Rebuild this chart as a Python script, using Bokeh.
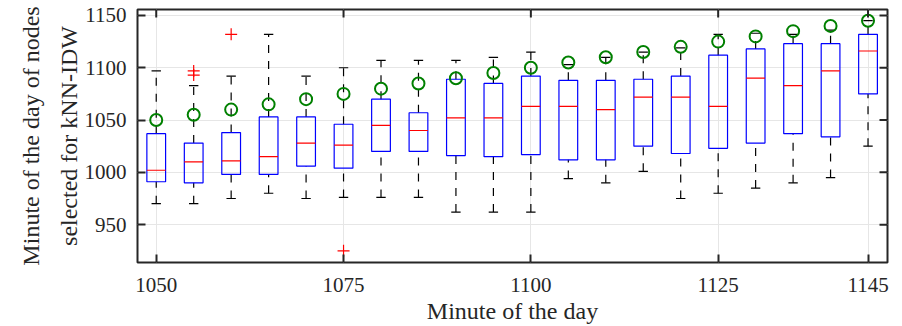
import math
from bokeh.plotting import figure
from bokeh.models import ColumnDataSource, FixedTicker, Range1d
from bokeh.embed import file_html
from bokeh.resources import INLINE

# ---- data ----
minutes = [1050, 1055, 1060, 1065, 1070, 1075, 1080, 1085, 1090, 1095,
           1100, 1105, 1110, 1115, 1120, 1125, 1130, 1135, 1140, 1145]
upper_whisker = [1097, 1083, 1092, 1132, 1092, 1100, 1107, 1107, 1107, 1110,
                 1115, 1103, 1110, 1115, 1119, 1132, 1133, 1132, 1136, 1145]
q3 = [1037, 1028, 1038, 1053, 1053, 1046, 1070, 1057, 1089, 1085,
      1092, 1088, 1088, 1089, 1092, 1112, 1118, 1123, 1123, 1132]
median = [1002, 1010, 1011, 1015, 1028, 1026, 1045, 1040, 1052, 1052,
          1063, 1063, 1060, 1072, 1072, 1063, 1090, 1083, 1097, 1116]
q1 = [991, 990, 998, 998, 1006, 1004, 1020, 1020, 1016, 1015,
      1017, 1012, 1012, 1025, 1018, 1023, 1028, 1037, 1034, 1075]
lower_whisker = [970, 970, 975, 980, 975, 976, 976, 976, 962, 962,
                 962, 994, 990, 1001, 975, 980, 985, 990, 995, 1025]
actual_minute = minutes  # green circles: the target minute itself
outlier_x = [1055, 1055, 1060, 1075]
outlier_y = [1097, 1093, 1132, 925]

x_ticks = [1050, 1075, 1100, 1125, 1145]
y_ticks = [950, 1000, 1050, 1100, 1150]
x_lim = (1047.5, 1147.6)
y_lim = (913.8, 1155.7)

box_w = 2.5
cap_w = 1.25

src = ColumnDataSource(dict(
    x=minutes,
    left=[m - box_w / 2 for m in minutes],
    right=[m + box_w / 2 for m in minutes],
    capl=[m - cap_w / 2 for m in minutes],
    capr=[m + cap_w / 2 for m in minutes],
    up=upper_whisker, q3=q3, med=median, q1=q1, lo=lower_whisker,
    act=actual_minute,
))

FONT = "Liberation Serif"
AX = "#262626"

p = figure(width=902, height=326, output_backend="svg", toolbar_location=None,
           x_range=Range1d(*x_lim), y_range=Range1d(*y_lim),
           min_border_left=137, min_border_right=15, min_border_top=9,
           min_border_bottom=63)
p.background_fill_color = "white"
p.border_fill_color = "white"
p.outline_line_color = AX
p.outline_line_width = 2

# grid
p.xgrid.ticker = FixedTicker(ticks=x_ticks)
p.ygrid.ticker = FixedTicker(ticks=y_ticks)
p.grid.grid_line_color = "#e6e6e6"
p.grid.grid_line_width = 1

# whiskers (dashed) and caps
p.segment(x0="x", y0="q3", x1="x", y1="up", source=src, line_color="black",
          line_width=1.2, line_dash="8 8")
p.segment(x0="x", y0="lo", x1="x", y1="q1", source=src, line_color="black",
          line_width=1.2, line_dash="8 8")
p.segment(x0="capl", y0="up", x1="capr", y1="up", source=src, line_color="black",
          line_width=1.2)
p.segment(x0="capl", y0="lo", x1="capr", y1="lo", source=src, line_color="black",
          line_width=1.2)
# boxes
p.quad(left="left", right="right", bottom="q1", top="q3", source=src,
       fill_alpha=0, line_color="#0000ff", line_width=1.2)
# medians
p.segment(x0="left", y0="med", x1="right", y1="med", source=src,
          line_color="#ff0000", line_width=1.2)
# outliers
p.scatter(outlier_x, outlier_y, marker="cross", size=12, line_color="#ff0000",
          line_width=1.2)
# actual minute markers
p.scatter(x="x", y="act", source=src, marker="circle", size=12, fill_alpha=0,
          line_color="#008000", line_width=2)

# mirrored inward ticks on the top and right edges
p.ray(x=x_ticks, y=[y_lim[1]] * len(x_ticks), length=8, length_units="screen",
      angle=-math.pi / 2, line_color=AX, line_width=2)
p.ray(x=[x_lim[1]] * len(y_ticks), y=y_ticks, length=8, length_units="screen",
      angle=math.pi, line_color=AX, line_width=2)

# axes styling
for ax in (p.xaxis[0], p.yaxis[0]):
    ax.axis_line_color = None
    ax.major_tick_in = 8
    ax.major_tick_out = 0
    ax.minor_tick_in = 0
    ax.minor_tick_out = 0
    ax.major_tick_line_color = AX
    ax.major_tick_line_width = 2
    ax.major_label_text_font = FONT
    ax.major_label_text_font_size = "21px"
    ax.major_label_text_color = AX
    ax.axis_label_text_font = FONT
    ax.axis_label_text_font_size = "24px"
    ax.axis_label_text_font_style = "normal"
    ax.axis_label_text_color = AX

p.xaxis.ticker = FixedTicker(ticks=x_ticks)
p.yaxis.ticker = FixedTicker(ticks=y_ticks)
p.xaxis.axis_label = "Minute of the day"
p.yaxis.axis_label = "Minute of the day of nodes\nselected for kNN-IDW"
p.xaxis.major_label_standoff = 15
p.yaxis.major_label_standoff = 11
p.xaxis.axis_label_standoff = 3
p.yaxis.axis_label_standoff = 0
p.yaxis.axis_label_text_line_height = 1.45

open("out.html", "w").write(file_html(p, INLINE))
